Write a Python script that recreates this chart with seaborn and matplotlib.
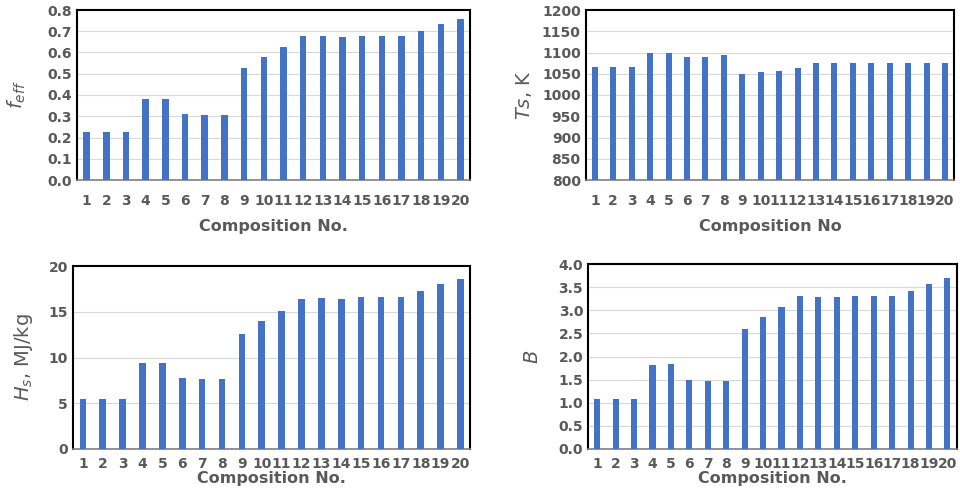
import matplotlib
matplotlib.use('Agg')
import matplotlib.pyplot as plt
import numpy as np
import pandas as pd
import seaborn as sns

COMPOSITIONS = [str(i) for i in range(1, 21)]
F_EFF = [0.224, 0.224, 0.224, 0.38, 0.38, 0.309, 0.304, 0.304, 0.529, 0.58,
         0.627, 0.678, 0.678, 0.673, 0.678, 0.678, 0.678, 0.703, 0.733, 0.758]
TS = [1065, 1065, 1065, 1098, 1098, 1090, 1089, 1094, 1049, 1054,
      1057, 1063, 1076, 1075, 1076, 1076, 1076, 1076, 1076, 1076]
HS = [5.45, 5.45, 5.45, 9.38, 9.45, 7.71, 7.6, 7.6, 12.62, 14.0,
      15.09, 16.36, 16.55, 16.44, 16.62, 16.62, 16.62, 17.24, 18.0, 18.58]
B = [1.09, 1.09, 1.09, 1.82, 1.84, 1.50, 1.48, 1.48, 2.60, 2.85,
     3.07, 3.31, 3.29, 3.28, 3.31, 3.31, 3.31, 3.41, 3.56, 3.69]

BAR_COLOR = '#4472C4'
TEXT_COLOR = '#595959'

sns.set_theme(style='white')
plt.rcParams['font.family'] = ['DejaVu Sans']

fig = plt.figure(figsize=(9.6, 5.0), dpi=100)

panels = [
    # values, ylabel, xlabel, ylim, yticks, fmt, rect, xlabel pad, ylabel pad
    (F_EFF, r'$f_{eff}$', 'Composition No.', (0, 0.8), np.arange(0, 0.81, 0.1), '{:.1f}',
     [0.080, 0.640, 0.410, 0.340], 8, 14),
    (TS, r'$Ts$, K', 'Composition No', (800, 1200), np.arange(800, 1201, 50), '{:.0f}',
     [0.610, 0.640, 0.384, 0.340], 8, 6),
    (HS, r'$H_s$, MJ/kg', 'Composition No.', (0, 20), np.arange(0, 21, 5), '{:.0f}',
     [0.076, 0.102, 0.414, 0.366], 0, 10),
    (B, r'$B$', 'Composition No.', (0, 4.0), np.arange(0, 4.01, 0.5), '{:.1f}',
     [0.6125, 0.102, 0.384, 0.370], 0, 12),
]

for values, ylabel, xlabel, ylim, yticks, fmt, rect, lpad, ypad in panels:
    ax = fig.add_axes(rect)
    df = pd.DataFrame({'Composition': COMPOSITIONS, 'Value': values})
    sns.barplot(data=df, x='Composition', y='Value', color=BAR_COLOR,
                width=0.33, saturation=1, linewidth=0, ax=ax, zorder=3)
    ax.set_ylim(*ylim)
    ax.set_yticks(yticks)
    ax.set_yticklabels([fmt.format(v) for v in yticks])
    ax.set_xlim(-0.5, len(COMPOSITIONS) - 0.5)
    ax.yaxis.grid(True, color='#D9D9D9', linewidth=0.8, zorder=0)
    ax.set_axisbelow(True)
    ax.tick_params(axis='both', length=0, colors=TEXT_COLOR, labelsize=10)
    ax.tick_params(axis='x', pad=10 if lpad else 6)
    for lab in ax.get_xticklabels() + ax.get_yticklabels():
        lab.set_fontweight('bold')
    ax.set_xlabel(xlabel, fontsize=11.5, fontweight='bold', color=TEXT_COLOR, labelpad=lpad)
    ax.set_ylabel(ylabel, fontsize=14, color=TEXT_COLOR, labelpad=ypad)
    for side in ['left', 'top', 'right']:
        ax.spines[side].set_color('black')
        ax.spines[side].set_linewidth(1.5)
    ax.spines['bottom'].set_color('#7F7F7F')
    ax.spines['bottom'].set_linewidth(1.2)

fig.savefig('out.png', dpi=100)
